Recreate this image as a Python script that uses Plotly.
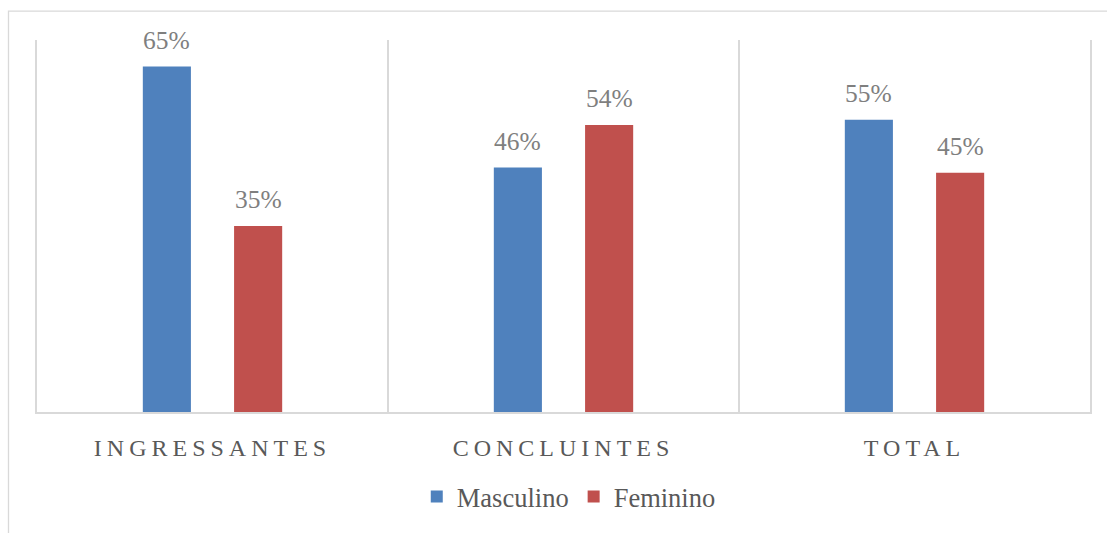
import plotly.graph_objects as go

categories = ["INGRESSANTES", "CONCLUINTES", "TOTAL"]
masculino = [0.65, 0.46, 0.55]
feminino = [0.35, 0.54, 0.45]
series_names = ["Masculino", "Feminino"]
colors = ["#4F81BD", "#C0504D"]

FONT = "Liberation Serif"
BARGAP = 0.48
BARGROUPGAP = 0.473
xpos = list(range(len(categories)))

fig = go.Figure()
for name, vals, col in zip(series_names, [masculino, feminino], colors):
    fig.add_trace(go.Bar(x=xpos, y=vals, name=name, marker=dict(color=col, line=dict(width=0))))

# data labels
slot = (1 - BARGAP) / 2
annotations = []
for k, vals in enumerate([masculino, feminino]):
    off = -slot / 2 if k == 0 else slot / 2
    for i, v in enumerate(vals):
        annotations.append(dict(x=xpos[i] + off, y=v, xref="x", yref="y",
                                text=f"{round(v*100)}%", showarrow=False,
                                yanchor="bottom", yshift=10,
                                font=dict(family=FONT, size=25.5, color="#7F7F7F")))

# outer chart border (top and left visible)
pw, ph = 1053, 374
shapes = [dict(type="rect", xref="paper", yref="paper",
               x0=(8.5 - 37) / pw, x1=(1112 - 37) / pw,
               y0=(414 - 540) / ph, y1=(414 - 11) / ph,
               line=dict(color="#D9D9D9", width=1.3), fillcolor="rgba(0,0,0,0)", layer="below")]

fig.update_layout(
    width=1107, height=533,
    margin=dict(l=37, r=17, t=40, b=119),
    paper_bgcolor="white", plot_bgcolor="white",
    barmode="group", bargap=BARGAP, bargroupgap=BARGROUPGAP,
    showlegend=True,
    legend=dict(orientation="h", x=0.505, xanchor="center", y=-0.228, yanchor="middle",
                font=dict(family=FONT, size=26.5, color="#595959"), itemwidth=30,
                traceorder="normal"),
    annotations=annotations,
    shapes=shapes,
    xaxis=dict(range=[-0.5, 2.5], tickvals=xpos, ticktext=categories,
               showgrid=False, zeroline=False, showline=True, linecolor="#D9D9D9", linewidth=1.5,
               ticks="", ticklabelstandoff=13,
               tickfont=dict(family=FONT, size=24, color="#595959"),
               minor=dict(tickvals=[0.5, 1.5], showgrid=True, gridcolor="#D9D9D9", gridwidth=1.5, ticks="")),
    yaxis=dict(range=[0, 0.70], showgrid=False, zeroline=False, showticklabels=False,
               showline=True, mirror=True, linecolor="#D9D9D9", linewidth=1.5, ticks=""),
)

post = """
var s=document.createElement('style');
s.innerHTML='.xtick text{letter-spacing:5px;}';
document.head.appendChild(s);
"""
fig.write_html("out.html", post_script=post)
